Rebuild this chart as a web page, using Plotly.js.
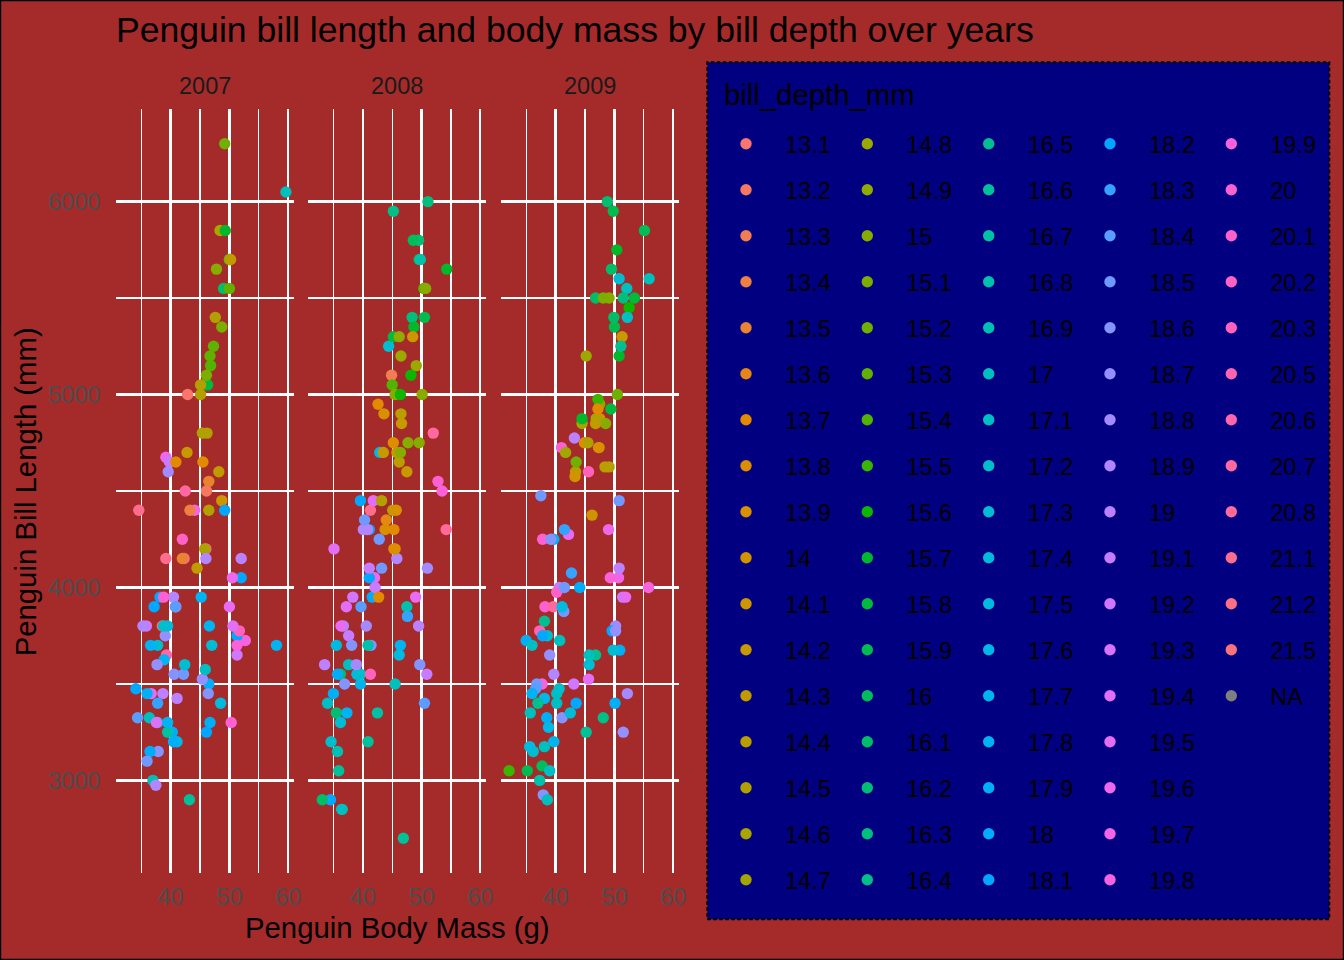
<!DOCTYPE html>
<html><head><meta charset="utf-8">
<script src="https://cdn.plot.ly/plotly-3.0.1.min.js"></script>
<style>html,body{margin:0;padding:0;background:#A52A2A;}#chart{width:1344px;height:960px;}</style>
</head><body><div id="chart"></div>
<script>
// ---------------- data ----------------
const years = ['2007', '2008', '2009'];
const depthLevels = ['13.1','13.2','13.3','13.4','13.5','13.6','13.7','13.8','13.9','14','14.1','14.2','14.3','14.4','14.5','14.6','14.7',
  '14.8','14.9','15','15.1','15.2','15.3','15.4','15.5','15.6','15.7','15.8','15.9','16','16.1','16.2','16.3','16.4',
  '16.5','16.6','16.7','16.8','16.9','17','17.1','17.2','17.3','17.4','17.5','17.6','17.7','17.8','17.9','18','18.1',
  '18.2','18.3','18.4','18.5','18.6','18.7','18.8','18.9','19','19.1','19.2','19.3','19.4','19.5','19.6','19.7','19.8',
  '19.9','20','20.1','20.2','20.3','20.5','20.6','20.7','20.8','21.1','21.2','21.5','NA'];

// 2007
const len2007 = [39.1,39.5,40.3,36.7,39.3,38.9,39.2,34.1,42.0,37.8,37.8,41.1,38.6,34.6,36.6,38.7,42.5,34.4,46.0,37.8,37.7,35.9,38.2,38.8,35.3,40.6,40.5,37.9,40.5,39.5,37.2,39.5,40.9,36.4,39.2,38.8,42.2,37.6,39.8,36.5,40.8,36.0,44.1,37.0,39.6,41.1,37.5,36.0,42.3,
  46.1,50.0,48.7,50.0,47.6,46.5,45.4,46.7,43.3,46.8,40.9,49.0,45.5,48.4,45.8,49.3,42.0,49.2,46.2,48.7,50.2,45.1,46.5,46.3,42.9,46.1,44.5,47.8,48.2,50.0,47.3,42.8,45.1,59.6,
  46.5,50.0,51.3,45.4,52.7,45.2,46.1,51.3,46.0,51.3,46.6,51.7,47.0,52.0,45.9,50.5,50.3,58.0,46.4,49.2,42.4,48.5,43.2,50.6,46.7,52.0];
const mass2007 = [3750,3800,3250,3450,3650,3625,4675,3475,4250,3300,3700,3200,3800,4400,3700,3450,4500,3325,4200,3400,3600,3800,3950,3800,3800,3550,3200,3150,3950,3250,3900,3300,3900,3325,4150,3950,3550,3300,4650,3150,3900,3100,4400,3000,4600,3425,2975,3450,4150,
  4500,5700,4450,5700,5400,4550,4800,5200,4400,5150,4650,5550,4650,5850,4200,5850,4150,6300,4800,5350,5700,5000,4400,5050,5000,5100,4100,5650,4600,5550,5250,4700,5050,6050,
  3500,3900,3650,3525,3725,3950,3250,3750,4150,3700,3800,3775,3700,4050,3575,4050,3300,3700,3450,4400,3600,3400,2900,3800,3300,4150];
const depth2007 = [18.7,17.4,18.0,19.3,20.6,17.8,19.6,18.1,20.2,17.1,17.3,17.6,21.2,21.1,17.8,19.0,20.7,18.4,21.5,18.3,18.7,19.2,18.1,17.2,18.9,18.6,17.9,18.6,18.9,16.7,18.1,17.8,18.9,17.0,21.1,20.0,18.5,19.3,19.1,18.0,18.4,18.5,19.7,16.9,18.8,19.0,18.9,17.9,21.2,
  13.2,16.3,14.1,15.2,14.5,13.5,14.6,15.3,13.4,15.4,13.7,16.1,13.7,14.6,14.6,15.7,13.5,15.2,14.5,15.1,14.3,14.5,14.5,15.8,13.1,15.1,14.3,15.0,14.3,15.3,15.3,14.2,14.5,17.0,
  17.9,19.5,19.2,18.7,19.8,17.8,18.2,18.2,18.9,19.9,17.8,20.3,17.3,18.1,17.1,19.6,20.0,17.8,18.6,18.2,17.3,17.5,16.6,19.4,17.9,19.0];

// 2008
const len2008 = [39.6,40.1,35.0,42.0,34.5,41.4,39.0,40.6,36.5,37.6,35.7,41.3,37.6,41.1,36.4,41.6,35.5,41.1,35.9,41.8,33.5,39.7,39.6,45.8,35.5,42.8,40.9,37.2,36.2,42.1,34.6,42.9,36.7,35.1,37.3,41.3,36.3,36.9,38.3,38.9,35.7,41.1,34.0,39.6,36.2,40.8,38.1,40.3,33.1,43.2,
  49.1,48.4,42.6,44.4,44.0,48.7,42.7,49.6,45.3,49.6,50.5,43.6,45.5,50.5,44.9,45.2,46.6,48.5,45.1,50.1,46.5,45.0,43.8,45.5,43.2,50.4,45.3,46.2,45.7,54.3,45.8,49.8,46.2,49.5,43.5,50.7,47.7,46.4,48.2,46.5,46.4,48.6,47.5,51.1,45.2,45.2,
  50.5,49.5,46.4,52.8,40.9,54.2,42.5,51.0,49.7,47.5,47.6,52.0,46.9,53.5,49.0,46.2,50.9,45.5];
const mass2008 = [3500,4300,3450,4050,2900,3700,3550,3800,2850,3750,3150,4400,3600,4050,2850,3950,3350,4100,3050,4450,3600,3900,3550,4150,3700,4250,3700,3900,3550,4000,3200,4700,3800,4200,3350,3550,3800,3500,3950,3600,3550,4300,3400,4450,3300,4300,3700,4350,2900,4100,
  5150,5400,4950,5250,4350,5350,3950,5700,4300,4750,5550,4900,4200,5400,5100,5300,4850,5300,4400,5000,4900,5050,4300,5000,4450,5550,4200,5300,4400,5650,4700,5700,4650,5800,4700,5550,4750,5000,5100,5200,4700,5800,4600,6000,4750,5950,
  3400,3800,3700,4550,3200,4300,3350,4100,3600,3900,3850,4800,2700,4500,3950,3650,3550,3500];
const depth2008 = [17.7,18.9,17.9,19.5,18.1,18.6,17.5,18.8,16.6,19.1,16.9,21.1,17.0,18.2,17.1,18.0,16.2,19.1,16.6,19.4,19.0,18.4,17.2,18.9,17.5,18.5,16.8,19.4,16.1,19.1,17.2,17.6,18.8,19.4,17.8,20.3,19.5,18.6,19.2,18.8,18.0,18.1,17.1,18.1,17.3,18.9,18.6,18.5,16.1,18.5,
  14.8,16.3,13.7,17.3,13.6,15.7,13.7,16.0,13.7,15.0,15.9,13.9,13.9,15.9,13.3,15.8,14.2,14.1,14.4,15.0,14.4,15.4,13.9,15.0,14.5,15.3,13.8,14.9,13.9,15.7,14.2,16.8,14.4,16.2,14.2,15.0,15.0,15.6,15.6,14.8,15.0,16.0,14.2,16.3,13.8,16.4,
  18.4,19.0,17.8,20.0,16.6,20.8,16.7,18.8,18.6,16.8,18.3,20.7,16.6,19.9,19.5,17.5,19.1,17.0];

// 2009
const len2009 = [35.0,41.0,37.7,37.8,37.9,39.7,38.6,38.2,38.1,43.2,38.1,45.6,39.7,42.2,39.6,42.7,38.6,37.3,35.7,41.1,36.2,37.7,40.2,41.4,35.2,40.6,38.8,41.5,39.0,44.1,38.5,43.1,36.8,37.5,38.1,41.1,35.6,40.2,37.0,39.7,40.2,40.6,32.1,40.7,37.3,39.0,39.2,36.6,36.0,37.8,36.0,41.5,
  49.1,52.5,47.4,50.0,44.9,50.8,43.4,51.3,47.5,52.1,47.5,52.2,45.5,49.5,44.5,50.8,49.4,46.9,48.4,51.1,48.5,55.9,47.2,49.1,47.3,46.8,41.7,53.4,43.3,48.1,50.5,49.8,43.5,51.5,46.2,55.1,44.5,48.8,47.2,46.8,50.4,45.2,49.9,
  50.9,50.8,50.1,49.0,51.5,49.8,48.1,51.4,45.7,50.7,42.5,52.2,45.2,49.3,50.2,45.6,51.9,46.8,45.7,55.8,43.5,49.6,50.8,50.2];
const mass2009 = [3725,4725,3075,4250,2925,3550,3750,3900,3175,4775,3825,4600,3200,4275,3900,4075,2900,3775,3350,3325,3150,3500,3450,3875,3050,4000,3275,4300,3050,4000,3325,3500,3500,4475,3425,3900,3175,3975,3400,4250,3400,3475,3050,3725,3000,3650,4250,3475,3450,3750,3700,4000,
  4625,5450,4725,5350,4750,5600,4600,5300,4875,5550,4950,5400,4750,5650,4850,5200,4925,4875,4625,5250,4850,5600,4975,5500,4725,5500,4700,5500,4575,5500,5000,5950,4650,5500,4375,5850,4875,6000,4925,4850,5750,5200,5400,
  3675,4450,3400,4300,3250,3675,3325,3950,3600,4050,3350,3450,3250,4050,3800,3525,3950,3650,3650,4000,3400,3775,4100,3775];
const depth2009 = [17.9,20.0,16.0,20.0,18.6,18.9,17.2,20.0,17.0,19.0,16.5,20.3,17.7,19.5,20.7,18.3,17.0,20.5,17.0,18.6,17.2,19.8,17.0,18.5,15.9,19.0,17.6,18.3,17.1,18.0,17.9,19.2,18.5,18.5,17.6,17.5,17.5,20.1,16.5,17.9,17.1,17.2,15.5,17.0,16.8,18.7,18.6,18.4,17.8,18.1,17.1,18.5,
  14.5,15.6,14.6,15.9,13.8,17.3,14.4,14.2,14.0,17.0,15.0,17.1,14.5,16.1,14.7,15.7,15.8,14.6,14.4,16.5,15.0,17.0,15.5,15.0,13.8,16.1,14.7,15.8,14.0,15.1,15.2,15.9,15.2,16.3,14.1,16.0,15.7,16.2,13.7,14.3,15.7,14.8,16.1,
  17.9,18.5,17.9,19.6,18.7,17.3,16.4,19.0,17.3,19.7,17.3,18.8,16.6,19.9,18.8,19.4,19.5,16.5,17.0,19.8,18.1,18.2,19.0,18.7];

const yTickVals = [3000, 4000, 5000, 6000];
const xTickVals = [40, 50, 60];

// ---------------- colours: ggplot2 hue palette (hcl, c=100, l=65) ----------------
function hcl2hex(h, c, l) {
  const hr = h * Math.PI / 180;
  const U = c * Math.cos(hr), V = c * Math.sin(hr);
  const Y = (l > 7.999592) ? Math.pow((l + 16) / 116, 3) : l / 903.3;
  const u = U / (13 * l) + 0.1978398, v = V / (13 * l) + 0.4683363;
  const X = 9 * Y * u / (4 * v);
  const Z = -X / 3 - 5 * Y + 3 * Y / v;
  const g = t => { t = t > 0.0031308 ? 1.055 * Math.pow(t, 1 / 2.4) - 0.055 : 12.92 * t; return Math.round(255 * Math.min(1, Math.max(0, t))); };
  const rgb = [g(3.240479 * X - 1.537150 * Y - 0.498535 * Z), g(-0.969256 * X + 1.875992 * Y + 0.041556 * Z), g(0.055648 * X - 0.204043 * Y + 1.057311 * Z)];
  return '#' + rgb.map(k => k.toString(16).padStart(2, '0')).join('');
}
const nLev = depthLevels.length - 1;
const levelColors = depthLevels.map((lv, i) => lv === 'NA' ? '#7F7F7F' : hcl2hex((15 + i * 360 / nLev) % 360, 100, 65));
const colorOf = d => { const i = depthLevels.indexOf(d == null ? 'NA' : String(d)); return levelColors[i < 0 ? levelColors.length - 1 : i]; };

// ---------------- geometry helpers (pixels -> paper) ----------------
const W = 1344, H = 960;
const M = {l: 116, r: 14, t: 60, b: 40};
const PW = W - M.l - M.r, PH = H - M.t - M.b;
const px = x => (x - M.l) / PW;
const py = y => (H - M.b - y) / PH;
const FONT = 'Liberation Sans, Arial, sans-serif';
const panelsPx = [[116, 294], [308.3, 486], [501, 679]];

const xAxisBase = {
  range: [30.725, 60.975], tickmode: 'array', tickvals: xTickVals, ticktext: xTickVals.map(String),
  showgrid: true, gridcolor: '#FFFFFF', gridwidth: 2.4,
  minor: {dtick: 5, tick0: 0, showgrid: true, gridcolor: '#FFFFFF', gridwidth: 1.2},
  zeroline: false, showline: false, ticks: 'outside', ticklen: 3, tickcolor: 'rgba(0,0,0,0)',
  tickfont: {family: FONT, size: 23.5, color: '#4D4D4D'}, anchor: 'y', fixedrange: true
};

const lens = [len2007, len2008, len2009], masses = [mass2007, mass2008, mass2009], depths = [depth2007, depth2008, depth2009];
const axisIds = ['x', 'x2', 'x3'];
const traces = years.map((yr, k) => ({
  type: 'scatter', mode: 'markers', name: yr, x: lens[k], y: masses[k], xaxis: axisIds[k], yaxis: 'y',
  marker: {size: 11.4, color: depths[k].map(colorOf), line: {width: 0}}, showlegend: false, hoverinfo: 'skip'
}));

// legend-only entries, 5 columns of 17
const legendIds = ['legend', 'legend2', 'legend3', 'legend4', 'legend5'];
depthLevels.forEach((lv, i) => {
  traces.push({type: 'scatter', mode: 'markers', x: [null], y: [null], xaxis: 'x', yaxis: 'y', name: lv,
    legend: legendIds[Math.floor(i / 17)], legendgroup: 'g' + i, showlegend: true,
    marker: {size: 11.4, color: levelColors[i], line: {width: 0}}, hoverinfo: 'skip'});
});

const dotX = [746, 867.3, 988.7, 1110, 1231.3];
const layout = {
  width: W, height: H, margin: M,
  paper_bgcolor: '#A52A2A', plot_bgcolor: '#A52A2A',
  font: {family: FONT, color: '#000000'},
  hovermode: false,
  title: {text: 'Penguin bill length and body mass by bill depth over years', font: {family: FONT, size: 35.6, color: '#000000'},
    x: 116 / W, xref: 'container', xanchor: 'left', y: 1 - 29.3 / H, yref: 'container', yanchor: 'middle'},
  xaxis: Object.assign({}, xAxisBase, {domain: [px(panelsPx[0][0]), px(panelsPx[0][1])]}),
  xaxis2: Object.assign({}, xAxisBase, {domain: [px(panelsPx[1][0]), px(panelsPx[1][1])]}),
  xaxis3: Object.assign({}, xAxisBase, {domain: [px(panelsPx[2][0]), px(panelsPx[2][1])]}),
  yaxis: {
    range: [2520, 6480], domain: [py(873), py(109)], tickmode: 'array', tickvals: yTickVals, ticktext: yTickVals.map(String),
    showgrid: true, gridcolor: '#FFFFFF', gridwidth: 2.4,
    minor: {dtick: 500, tick0: 0, showgrid: true, gridcolor: '#FFFFFF', gridwidth: 1.2},
    zeroline: false, showline: false, ticks: 'outside', ticklen: 10, tickcolor: 'rgba(0,0,0,0)',
    tickfont: {family: FONT, size: 23.5, color: '#4D4D4D'}, anchor: 'x', fixedrange: true
  },
  shapes: [
    {type: 'rect', xref: 'paper', yref: 'paper', x0: px(707.3), x1: px(1329.3), y0: py(919.3), y1: py(62.3),
     fillcolor: '#000080', line: {color: '#000000', width: 2, dash: '3.5px,2.5px'}, layer: 'below'},
    {type: 'rect', xref: 'paper', yref: 'paper', x0: px(0), x1: px(W), y0: py(H), y1: py(0),
     fillcolor: 'rgba(0,0,0,0)', line: {color: '#000000', width: 2.4}, layer: 'above'}
  ],
  annotations: [
    ...years.map((yr, k) => ({text: yr, xref: 'paper', yref: 'paper', x: px((panelsPx[k][0] + panelsPx[k][1]) / 2), y: py(85.7),
      xanchor: 'center', yanchor: 'middle', showarrow: false, font: {family: FONT, size: 23.5, color: '#1A1A1A'}})),
    {text: 'Penguin Body Mass (g)', xref: 'paper', yref: 'paper', x: px(397.5), y: py(927), xanchor: 'center', yanchor: 'middle',
     showarrow: false, font: {family: FONT, size: 29.3, color: '#000000'}},
    {text: 'Penguin Bill Length (mm)', xref: 'paper', yref: 'paper', x: px(25.8), y: py(491.5), xanchor: 'center', yanchor: 'middle',
     textangle: -90, showarrow: false, font: {family: FONT, size: 29.3, color: '#000000'}},
    {text: 'bill_depth_mm', xref: 'paper', yref: 'paper', x: px(721.5), y: py(94), xanchor: 'left', yanchor: 'middle',
     showarrow: false, font: {family: FONT, size: 29.3, color: '#000000'}}
  ]
};
legendIds.forEach((id, c) => {
  layout[id] = {x: px(dotX[c] - 39), xanchor: 'left', y: py(122), yanchor: 'top', orientation: 'v',
    bgcolor: 'rgba(0,0,0,0)', borderwidth: 0, font: {family: FONT, size: 23.5, color: '#000000'},
    itemwidth: 68, tracegroupgap: 12.45, traceorder: 'grouped', itemclick: false, itemdoubleclick: false};
});

Plotly.newPlot('chart', traces, layout, {displayModeBar: false, staticPlot: true});
</script>
</body></html>
